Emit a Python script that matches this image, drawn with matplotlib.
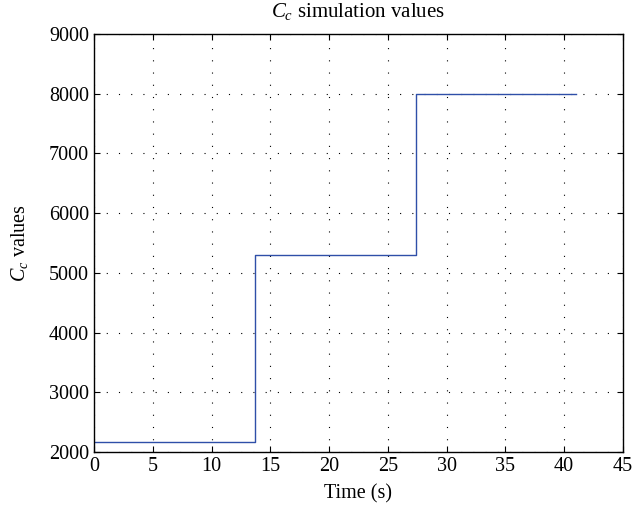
import matplotlib
matplotlib.use("Agg")
import matplotlib.pyplot as plt

plt.rcParams['font.family'] = ['Liberation Serif', 'DejaVu Serif']
plt.rcParams['mathtext.fontset'] = 'custom'
plt.rcParams['mathtext.rm'] = 'Liberation Serif'
plt.rcParams['mathtext.it'] = 'Liberation Serif:italic'

# step data (time, Cc value)
t = [0, 13.7, 13.7, 27.4, 27.4, 41]
cc = [2167, 2167, 5290, 5290, 8000, 8000]
xticks = [0, 5, 10, 15, 20, 25, 30, 35, 40, 45]
yticks = [2000, 3000, 4000, 5000, 6000, 7000, 8000, 9000]

fig = plt.figure(figsize=(6.35, 5.12), dpi=100)
ax = fig.add_axes([0.148, 0.117, 0.833, 0.817])
ax.plot(t, cc, color='#2f4fa8', linewidth=1.0)
ax.set_xlim(0, 45)
ax.set_ylim(2000, 9000)
ax.set_xticks(xticks)
ax.set_yticks(yticks)
ax.grid(True, color='black', linestyle=(0, (1, 10)), linewidth=0.8)
ax.tick_params(direction='in', top=True, right=True, labelsize=14.5, length=4)
for s in ax.spines.values():
    s.set_linewidth(1.0)
ax.set_xlabel('Time (s)', fontsize=14.5, labelpad=6)
ax.set_ylabel('$C_c$ values', fontsize=14.5, labelpad=14)
ax.set_title('$C_c$ simulation values', fontsize=15, pad=12)

fig.savefig('out.png', dpi=100)
